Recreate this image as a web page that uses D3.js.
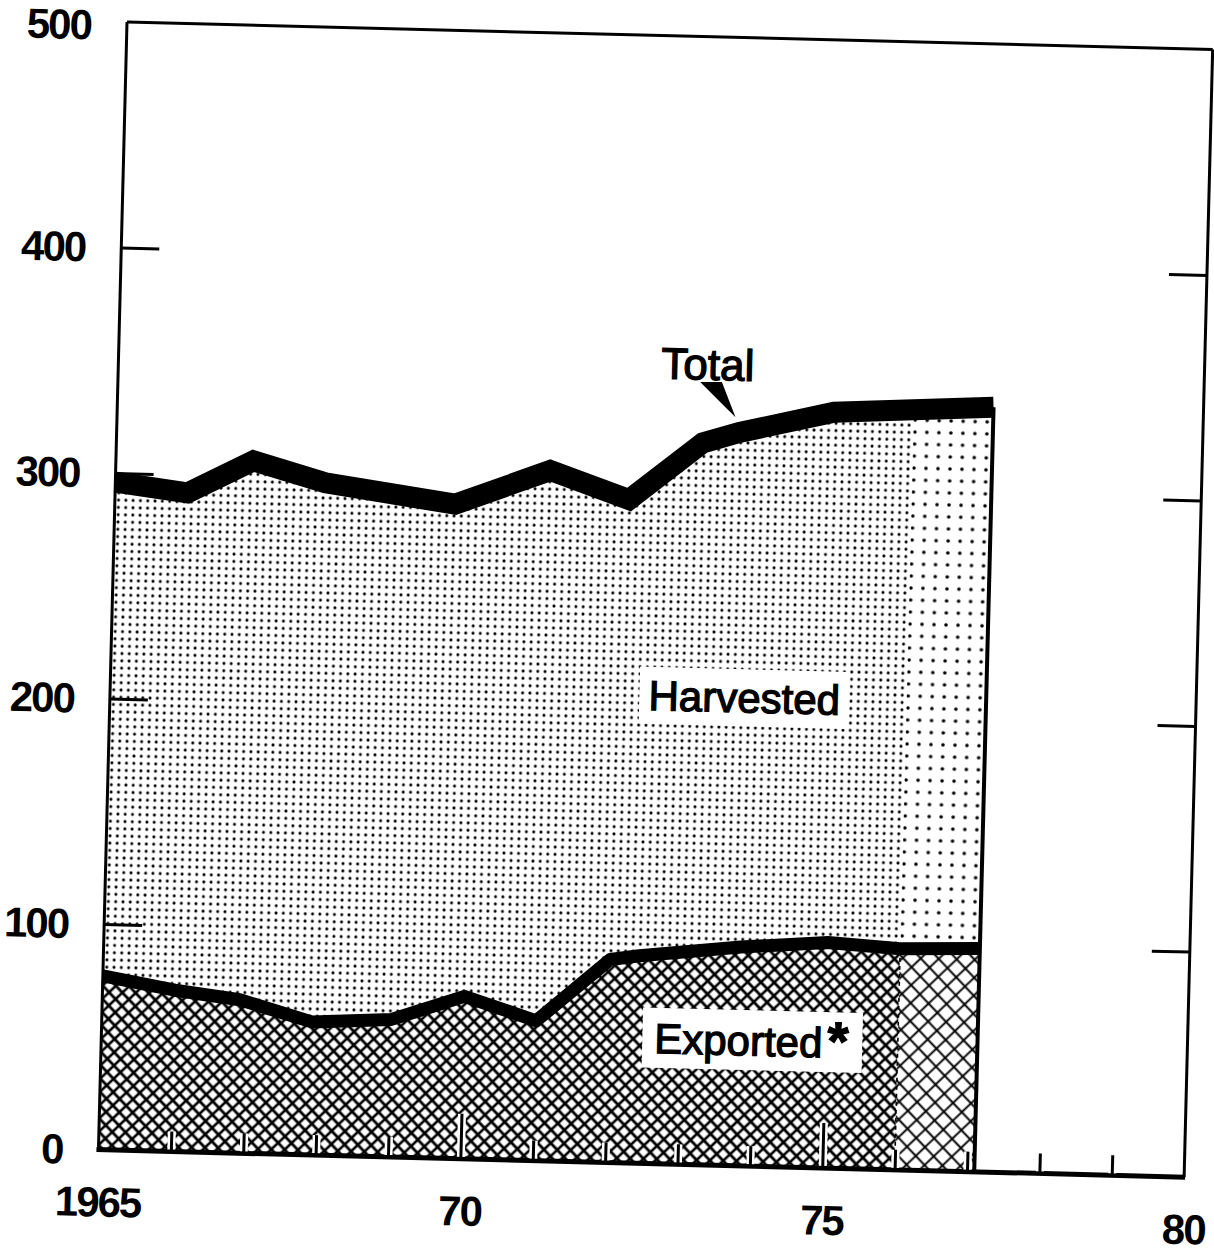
<!DOCTYPE html>
<html>
<head>
<meta charset="utf-8">
<script src="https://cdnjs.cloudflare.com/ajax/libs/d3/7.8.5/d3.min.js"></script>
<style>
  body { margin: 0; background: #fff; }
  svg { display: block; }
</style>
</head>
<body>
<svg id="chart" width="1214" height="1255"></svg>
<script>
// DATA

var totalYears   = [1965, 1966, 1966.9, 1967.9, 1969.7, 1971, 1972.1, 1973.1, 1973.6, 1974.9, 1977.1];
var totalValues  = [296, 292, 307, 298, 290, 306, 294, 320, 325, 335, 339];

var exportYears  = [1965, 1966, 1966.9, 1967.9, 1969, 1970, 1971, 1972, 1972.4, 1973.8, 1975, 1976, 1977.1];
var exportValues = [77, 71.5, 68, 59, 61, 72, 62, 90, 92, 97, 100, 98, 99];

var estimateFrom = 1976;

var yTicks      = [0, 100, 200, 300, 400, 500];
var xTicks      = d3.range(1965, 1981);
var xLabelYears = [1965, 1970, 1975, 1980];
var xLabelText  = ["1965", "70", "75", "80"];

// SETUP

var W = 1086, H = 1128;
var FONT = "'Liberation Sans', Arial, Helvetica, sans-serif";

var svg = d3.select("#chart");

// the scan is turned a little clockwise, so is the whole plot
var plot = svg.append("g")
    .attr("transform", "translate(127,22) rotate(1.45)");

var x = d3.scaleLinear().domain([1965, 1980]).range([0, W]);
var y = d3.scaleLinear().domain([0, 500]).range([H, 0]);

var total = totalYears.map(function (d, i) { return {year: d, value: totalValues[i]}; });
var exported = exportYears.map(function (d, i) { return {year: d, value: exportValues[i]}; });
var lastYear = totalYears[totalYears.length - 1];

// PATTERNS

var defs = svg.append("defs");

function dots(id, size, r) {
    var p = defs.append("pattern").attr("id", id)
        .attr("patternUnits", "userSpaceOnUse")
        .attr("width", size).attr("height", size);
    p.append("rect").attr("width", size).attr("height", size).attr("fill", "#fff");
    p.append("circle").attr("cx", size / 2).attr("cy", size / 2).attr("r", r).attr("fill", "#000");
}

function hatch(id, size, w) {
    var p = defs.append("pattern").attr("id", id)
        .attr("patternUnits", "userSpaceOnUse")
        .attr("width", size).attr("height", size)
        .attr("patternTransform", "rotate(45)");
    p.append("rect").attr("width", size).attr("height", size).attr("fill", "#fff");
    p.append("path")
        .attr("d", "M0," + size / 2 + "H" + size + "M" + size / 2 + ",0V" + size)
        .attr("stroke", "#000").attr("stroke-width", w);
}

dots("dotsFine", 7.3, 1.5);
dots("dotsCoarse", 12, 1.8);
hatch("hatchFine", 9.4, 2.6);
hatch("hatchCoarse", 12.7, 1.9);

defs.append("clipPath").attr("id", "clipActual")
  .append("rect").attr("x", x(1965)).attr("y", 0)
    .attr("width", x(estimateFrom) - x(1965)).attr("height", H);

defs.append("clipPath").attr("id", "clipEstimate")
  .append("rect").attr("x", x(estimateFrom)).attr("y", 0)
    .attr("width", W - x(estimateFrom)).attr("height", H);

// AREAS

var area = d3.area()
    .x(function (d) { return x(d.year); })
    .y0(y(0))
    .y1(function (d) { return y(d.value); });

var line = d3.line()
    .x(function (d) { return x(d.year); })
    .y(function (d) { return y(d.value); });

plot.append("path").datum(total).attr("d", area)
    .attr("fill", "url(#dotsFine)").attr("clip-path", "url(#clipActual)");
plot.append("path").datum(total).attr("d", area)
    .attr("fill", "url(#dotsCoarse)").attr("clip-path", "url(#clipEstimate)");

plot.append("path").datum(exported).attr("d", area)
    .attr("fill", "url(#hatchFine)").attr("clip-path", "url(#clipActual)");
plot.append("path").datum(exported).attr("d", area)
    .attr("fill", "url(#hatchCoarse)").attr("clip-path", "url(#clipEstimate)");

// dashed divider where the estimate starts
var expAt = d3.scaleLinear().domain(exportYears).range(exportValues);
plot.append("line")
    .attr("x1", x(estimateFrom)).attr("x2", x(estimateFrom))
    .attr("y1", y(0)).attr("y2", y(expAt(estimateFrom)))
    .attr("stroke", "#000").attr("stroke-width", 1.6)
    .attr("stroke-dasharray", "4,4");

// right edge of the filled block
plot.append("line")
    .attr("x1", x(lastYear)).attr("x2", x(lastYear))
    .attr("y1", y(0)).attr("y2", y(totalValues[totalValues.length - 1]))
    .attr("stroke", "#000").attr("stroke-width", 4);

// THICK LINES

plot.append("path").datum(exported).attr("d", line)
    .attr("fill", "none").attr("stroke", "#000")
    .attr("stroke-width", 13).attr("stroke-linejoin", "round");

plot.append("path").datum(total).attr("d", line)
    .attr("fill", "none").attr("stroke", "#000")
    .attr("stroke-width", 21).attr("stroke-linejoin", "miter");

// FRAME

plot.append("line").attr("x1", 0).attr("x2", W).attr("y1", 0).attr("y2", 0)
    .attr("stroke", "#000").attr("stroke-width", 3);
plot.append("line").attr("x1", 0).attr("x2", 0).attr("y1", 0).attr("y2", H)
    .attr("stroke", "#000").attr("stroke-width", 3);
plot.append("line").attr("x1", W).attr("x2", W).attr("y1", 0).attr("y2", H)
    .attr("stroke", "#000").attr("stroke-width", 3);
plot.append("line").attr("x1", -2).attr("x2", W + 1).attr("y1", H).attr("y2", H)
    .attr("stroke", "#000").attr("stroke-width", 5);

// AXES

var yAxisLeft = d3.axisLeft(y)
    .tickValues(yTicks).tickSizeInner(-38).tickSizeOuter(0).tickPadding(36)
    .tickFormat(d3.format("d"));

var gl = plot.append("g").call(yAxisLeft)
    .attr("font-family", FONT).attr("font-size", 42).attr("font-weight", "bold");
gl.select(".domain").remove();
gl.selectAll(".tick line").filter(function (d) { return d === 0 || d === 500; }).remove();
gl.selectAll(".tick line").attr("stroke-width", 3);
gl.selectAll(".tick text").attr("letter-spacing", -2)
    .attr("dy", function (d) { return d === 500 ? "0.42em" : "0.34em"; });

var yAxisRight = d3.axisRight(y)
    .tickValues(yTicks.slice(1, 5)).tickSizeInner(-38).tickSizeOuter(0)
    .tickFormat("");

var gr = plot.append("g").attr("transform", "translate(" + W + ",0)").call(yAxisRight);
gr.select(".domain").remove();
gr.selectAll(".tick line").attr("stroke-width", 3);

function xTickSize(d) { return d % 5 === 0 ? 45 : 20; }

function xLabel(d) {
    var i = xLabelYears.indexOf(d);
    return i < 0 ? "" : xLabelText[i];
}

var xAxis = d3.axisBottom(x)
    .tickValues(xTicks).tickSizeInner(-20).tickSizeOuter(0).tickPadding(37)
    .tickFormat("");

// white halo under the ticks, as in the print
var gxHalo = plot.append("g").attr("transform", "translate(0," + H + ")").call(xAxis);
gxHalo.select(".domain").remove();
gxHalo.selectAll("text").remove();
gxHalo.selectAll(".tick line").filter(function (d) { return d === 1965 || d === 1980; }).remove();
gxHalo.selectAll(".tick line")
    .attr("y2", function (d) { return -xTickSize(d); })
    .attr("stroke", "#fff").attr("stroke-width", 8).attr("y1", -2);

xAxis.tickFormat(xLabel);

var gx = plot.append("g").attr("transform", "translate(0," + H + ")").call(xAxis)
    .attr("font-family", FONT).attr("font-size", 42).attr("font-weight", "bold");
gx.select(".domain").remove();
gx.selectAll(".tick line").filter(function (d) { return d === 1965 || d === 1980; }).remove();
gx.selectAll(".tick line")
    .attr("y2", function (d) { return -xTickSize(d); })
    .attr("stroke-width", 3);
gx.selectAll(".tick text").attr("letter-spacing", -2);

// LABELS

plot.append("text")
    .attr("x", x(1973.14)).attr("y", y(348))
    .attr("text-anchor", "middle")
    .attr("font-family", FONT).attr("font-size", 44)
    .attr("stroke", "#000").attr("stroke-width", 1.3)
    .text("Total");

var pointer = [[1973.04, 346.9], [1973.34, 347.1], [1973.54, 331.7]];
plot.append("path")
    .attr("d", d3.line().x(function (d) { return x(d[0]); }).y(function (d) { return y(d[1]); })(pointer) + "Z")
    .attr("fill", "#000");

// harvested
plot.append("rect")
    .attr("x", x(1973.76) - 105).attr("y", y(207.7) - 28)
    .attr("width", 210).attr("height", 57).attr("fill", "#fff");
plot.append("text")
    .attr("x", x(1973.76)).attr("y", y(201))
    .attr("text-anchor", "middle")
    .attr("font-family", FONT).attr("font-size", 42)
    .attr("stroke", "#000").attr("stroke-width", 1.3)
    .text("Harvested");

// exported
plot.append("rect")
    .attr("x", x(1973.99) - 110).attr("y", y(55.8) - 30)
    .attr("width", 220).attr("height", 60).attr("fill", "#fff");
var ex = plot.append("text")
    .attr("x", x(1973.99) - 98).attr("y", y(49))
    .attr("font-family", FONT).attr("font-size", 42)
    .attr("stroke", "#000").attr("stroke-width", 1.3)
    .text("Exported");
ex.append("tspan")
    .attr("dx", 5).attr("dy", 2)
    .attr("font-weight", "bold").attr("font-size", 54)
    .text("*");
</script>
</body>
</html>
